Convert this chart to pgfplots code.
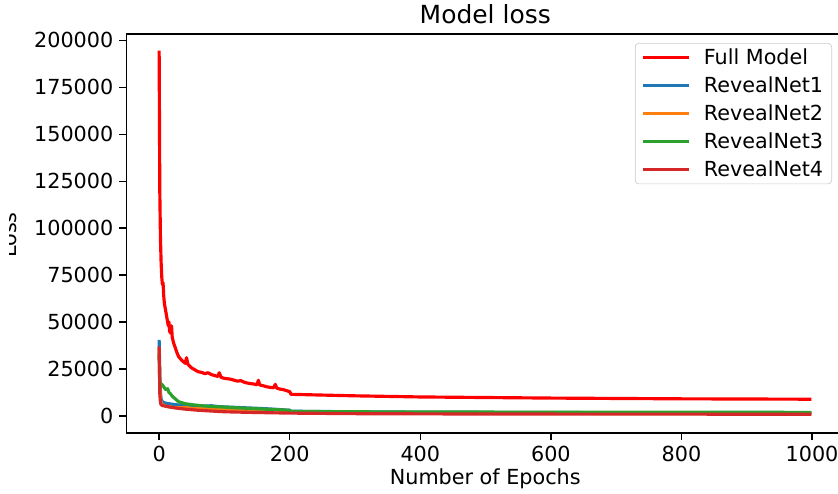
\documentclass[border=0pt]{standalone}
\usepackage{pgfplots}
\pgfplotsset{compat=1.18}
\usepackage{fontspec}
\setmainfont{DejaVu Sans}
\definecolor{tabblue}{HTML}{1F77B4}
\definecolor{taborange}{HTML}{FF7F0E}
\definecolor{tabgreen}{HTML}{2CA02C}
\definecolor{tabred}{HTML}{D62728}
\definecolor{fullred}{HTML}{FF0000}
\newcommand{\basefont}{\fontsize{11.8}{14}\selectfont}
\begin{document}
\begin{tikzpicture}
\useasboundingbox (-2.53,-1.2) rectangle (14.23,8.66);
\clip (-2.53,-1.2) rectangle (14.23,8.66);
\begin{axis}[
  at={(0,0)}, anchor=south west,
  scale only axis,
  width=14.35cm, height=7.98cm,
  xmin=-50, xmax=1049,
  ymin=-9100, ymax=203400,
  xtick={0,200,400,600,800,1000},
  xticklabels={0,200,400,600,800,1000},
  ytick={0,25000,50000,75000,100000,125000,150000,175000,200000},
  yticklabels={0,25000,50000,75000,100000,125000,150000,175000,200000},
  scaled ticks=false,
  tick align=outside,
  major tick length=0.14cm,
  xtick pos=bottom, ytick pos=left,
  axis line style={line width=0.8pt},
  every tick/.style={black, line width=0.8pt},
  ticklabel style={font=\basefont},
  xlabel={Number of Epochs},
  xlabel style={font=\basefont, at={(axis description cs:0.5,0)}, anchor=base, yshift=-1.02cm},
  title={Model loss},
  title style={font=\fontsize{14.2}{16}\selectfont, at={(axis description cs:0.5,1)}, anchor=base, yshift=0.22cm-6pt},
  legend cell align=left,
  legend image code/.code={\draw[#1] (0cm,0cm) -- (0.92cm,0cm);},
  legend style={
    at={(rel axis cs:1,1)}, anchor=north east, xshift=-0.24cm, yshift=-0.18cm,
    font=\basefont, draw=black!20, rounded corners=2pt,
    fill=white, fill opacity=0.8, text opacity=1,
    inner xsep=0.12cm, inner ysep=0.08cm, row sep=0.15cm,
    nodes={inner xsep=0.05cm, inner ysep=0pt, text height=0.35cm, text depth=0.06cm},
    /tikz/every odd column/.append style={column sep=0.22cm},
  },
  every axis plot/.append style={line width=1.8pt, line join=round},
]
% Full Model
\addplot[fullred] coordinates {
 (0,194500) (1,120000) (2,95000) (3,82000) (4,74000) (5,70000) (6,71000)
 (7,64000) (8,60000) (10,56000) (12,52000) (14,48000) (15,50000) (16,45000)
 (18,44000) (19,48000) (20,42000) (22,39000) (25,36000) (28,33000) (30,31500)
 (35,29500) (40,28000) (42,31000) (44,27500) (50,25500) (55,24500) (60,23500)
 (65,23200) (70,22500) (75,23000) (80,22000) (85,21500) (90,21000) (92,23000)
 (95,20500) (100,20000) (105,19800) (110,19500) (115,19000) (120,18500)
 (125,18800) (130,18000) (135,17500) (140,17200) (145,17000) (150,16600)
 (152,19000) (154,16500) (160,16000) (165,15500) (170,15200) (175,15000)
 (178,16800) (180,14800) (185,14300) (190,14000) (195,13500) (200,12900)
 (202,11500) (250,11100) (300,10700) (350,10400) (400,10100) (450,9950)
 (500,9800) (600,9500) (700,9300) (800,9100) (900,9000) (999,8900)
};
\addlegendentry{Full Model}
% RevealNet1
\addplot[tabblue] coordinates {
 (0,40500) (1,22000) (2,13000) (3,9000) (5,7500) (8,7000) (10,6800) (15,6500)
 (20,6200) (25,6000) (30,5800) (40,5600) (50,5500) (60,5300) (70,5200)
 (80,5400) (90,5000) (100,4800) (120,4500) (140,4200) (160,3900) (180,3500)
 (200,3000) (202,2500) (300,2200) (400,2000) (600,1800) (800,1700) (999,1600)
};
\addlegendentry{RevealNet1}
% RevealNet2
\addplot[taborange] coordinates {
 (0,36000) (1,15000) (2,9000) (3,7000) (5,6000) (8,5500) (10,5200) (15,4800)
 (20,4600) (30,4300) (40,4500) (50,4000) (60,3800) (80,3600) (100,3400)
 (120,3200) (150,3000) (170,3400) (200,2600) (202,2000) (300,1700)
 (500,1400) (999,1200)
};
\addlegendentry{RevealNet2}
% RevealNet3
\addplot[tabgreen] coordinates {
 (0,33000) (1,18000) (3,17000) (5,16500) (8,15000) (10,14000) (13,14500)
 (15,12500) (18,11500) (20,10500) (25,9000) (30,7500) (35,7000) (40,6500)
 (50,6000) (60,5600) (70,5300) (80,5000) (100,4700) (120,4300) (150,3800)
 (180,3300) (200,3000) (202,2400) (300,2200) (400,2100) (600,2000) (999,1900)
};
\addlegendentry{RevealNet3}
% RevealNet4
\addplot[tabred] coordinates {
 (0,37000) (1,12000) (2,7000) (3,6000) (5,5500) (10,5200) (20,4500)
 (30,4000) (40,3600) (50,3300) (60,3000) (80,2600) (100,2200) (150,1800)
 (200,1500) (300,1200) (500,1000) (999,900)
};
\addlegendentry{RevealNet4}
\end{axis}
\begin{scope}
  \clip (-2.33,0) rectangle (0,7.98);
  \node[rotate=90, anchor=base, font=\basefont, inner sep=0pt] at (-2.19,3.96) {Loss};
\end{scope}
\end{tikzpicture}
\end{document}
